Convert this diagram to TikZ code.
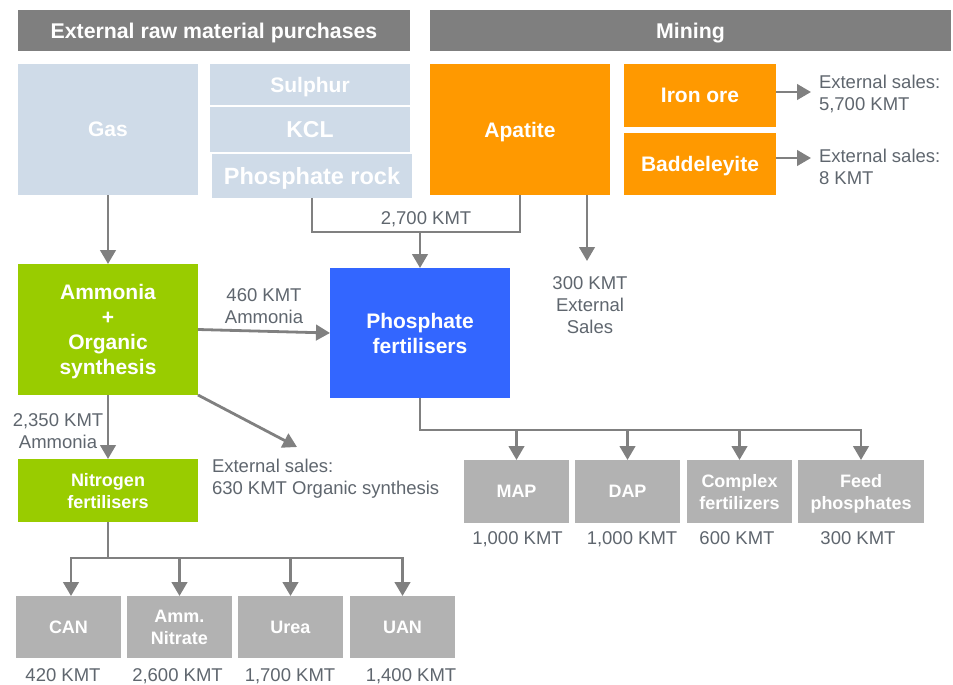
\documentclass[tikz,border=0pt]{standalone}
\usepackage{fontspec}
\setmainfont{Liberation Sans}
\usetikzlibrary{arrows.meta}
\definecolor{hdrgrey}{RGB}{127,127,127}
\definecolor{lblue}{RGB}{207,219,232}
\definecolor{orng}{RGB}{255,153,0}
\definecolor{grn}{RGB}{153,204,0}
\definecolor{blu}{RGB}{51,102,255}
\definecolor{boxgrey}{RGB}{178,178,178}
\definecolor{arrgrey}{RGB}{128,128,128}
\definecolor{txtgrey}{RGB}{95,102,110}
\begin{document}
\begin{tikzpicture}[x=1pt,y=-1pt,
  base/.style={inner sep=0pt, outer sep=0pt, text=white, align=center, anchor=center, text depth=0pt},
  hdr/.style={base, fill=hdrgrey, minimum height=41pt, font=\bfseries\fontsize{21.3}{25}\selectfont},
  bigbox/.style={base, font=\bfseries\fontsize{21}{25}\selectfont},
  rawbox/.style={bigbox, fill=lblue},
  minebox/.style={bigbox, fill=orng},
  greenbox/.style={bigbox, fill=grn},
  smallbox/.style={base, fill=boxgrey, minimum width=105pt, minimum height=63pt, font=\bfseries\fontsize{18}{22}\selectfont},
  lbl/.style={inner sep=0pt, outer sep=0pt, text=txtgrey, text depth=0pt, font=\fontsize{18.5}{22}\selectfont},
  conn/.style={draw=arrgrey, line width=2.8pt},
  arr/.style={conn, -{Triangle[width=15.5pt,length=14pt]}}
]
\useasboundingbox (0,0) rectangle (953,685);

% headers
\node[hdr, minimum width=392pt] (hl) at (214,30.5) {External raw material purchases};
\node[hdr, minimum width=521pt] (hr) at (690.5,30.5) {Mining};

% raw materials
\node[rawbox, minimum width=180pt, minimum height=131pt] (gas) at (108,129.5) {Gas};
\node[rawbox, minimum width=200pt, minimum height=41pt] (sul) at (310,84.5) {Sulphur};
\node[rawbox, minimum width=200pt, minimum height=45pt, font=\bfseries\fontsize{23}{25}\selectfont] (kcl) at (310,129.5) {KCL};
\node[rawbox, minimum width=200pt, minimum height=44pt, font=\bfseries\fontsize{23.5}{25}\selectfont] (prock) at (312,176) {Phosphate rock};

% mining
\node[minebox, minimum width=180pt, minimum height=131pt] (apa) at (520,129.5) {Apatite};
\node[minebox, minimum width=152pt, minimum height=63pt] (iron) at (700,95.5) {Iron ore};
\node[minebox, minimum width=152pt, minimum height=62pt] (badd) at (700,164) {Baddeleyite};

% processing
\node[greenbox, minimum width=180pt, minimum height=131pt] (amm) at (108,329.5) {Ammonia\\+\\Organic\\synthesis};
\node[bigbox, fill=blu, minimum width=180pt, minimum height=130pt] (phos) at (420,333) {Phosphate\\fertilisers};
\node[greenbox, minimum width=180pt, minimum height=63pt, font=\bfseries\fontsize{18}{22}\selectfont] (nitro) at (108,490.5) {Nitrogen\\fertilisers};

% phosphate products
\node[smallbox] (map) at (516.5,491.5) {MAP};
\node[smallbox] (dap) at (627.5,491.5) {DAP};
\node[smallbox] (cplx) at (739.5,491.5) {Complex\\fertilizers};
\node[smallbox, minimum width=126pt] (feed) at (861,491.5) {Feed\\phosphates};

% nitrogen products
\node[smallbox, minimum height=62pt] (can) at (68.5,627) {CAN};
\node[smallbox, minimum height=62pt] (ammn) at (179.5,627) {Amm.\\Nitrate};
\node[smallbox, minimum height=62pt] (urea) at (290.5,627) {Urea};
\node[smallbox, minimum height=62pt] (uan) at (402.5,627) {UAN};

% labels
\node[lbl, anchor=west, align=left] (ironl) at (819,92.5) {External sales:\\5,700 KMT};
\node[lbl, anchor=west, align=left] (baddl) at (819,166.5) {External sales:\\8 KMT};
\node[lbl] (l2700) at (426,218) {2,700 KMT};
\node[lbl, align=center] (l300) at (590,305) {300 KMT\\External\\Sales};
\node[lbl, align=center] (l460) at (264,306.5) {460 KMT\\Ammonia};
\node[lbl, align=center] (l2350) at (58,431.5) {2,350 KMT\\Ammonia};
\node[lbl, anchor=west, align=left] (l630) at (212,477) {External sales:\\630 KMT Organic synthesis};
\node[lbl] (q1) at (517.5,538) {1,000 KMT};
\node[lbl] (q2) at (632,538) {1,000 KMT};
\node[lbl] (q3) at (737,538) {600 KMT};
\node[lbl] (q4) at (858,538) {300 KMT};
\node[lbl] (r1) at (63,675) {420 KMT};
\node[lbl] (r2) at (177.5,675) {2,600 KMT};
\node[lbl] (r3) at (290,675) {1,700 KMT};
\node[lbl] (r4) at (411,675) {1,400 KMT};

% connector points
\coordinate (ironend) at (811,92);
\coordinate (baddend) at (811,158);
\coordinate (j1) at (420,232);
\coordinate (apend) at (587,261);
\coordinate (aeend) at (297,447);
\coordinate (pb) at (420,430);
\coordinate (nb) at (108,558);

% connectors
\draw[arr] (iron.east |- ironend) -- (ironend);
\draw[arr] (badd.east |- baddend) -- (baddend);
\draw[arr] (gas.south) -- (amm.north);
\draw[conn] (prock.south) |- (j1) -| (apa.south);
\draw[arr] (j1) -- (phos.north);
\draw[arr] (apa.south -| apend) -- (apend);
\draw[arr] (amm.east) -- (phos.west);
\draw[arr] (amm.south east) -- (aeend);
\draw[arr] (amm.south) -- (nitro.north);

\draw[arr] (phos.south) -- (pb) -| (feed.north);
\draw[arr] (pb) -| (map.north);
\draw[arr] (pb) -| (dap.north);
\draw[arr] (pb) -| (cplx.north);

\draw[conn] (nitro.south) -- (nb);
\draw[arr] (nb) -| ([xshift=2.5pt]can.north);
\draw[arr] (nb) -| (ammn.north);
\draw[arr] (nb) -| (urea.north);
\draw[arr] (nb) -| (uan.north);
\end{tikzpicture}
\end{document}
